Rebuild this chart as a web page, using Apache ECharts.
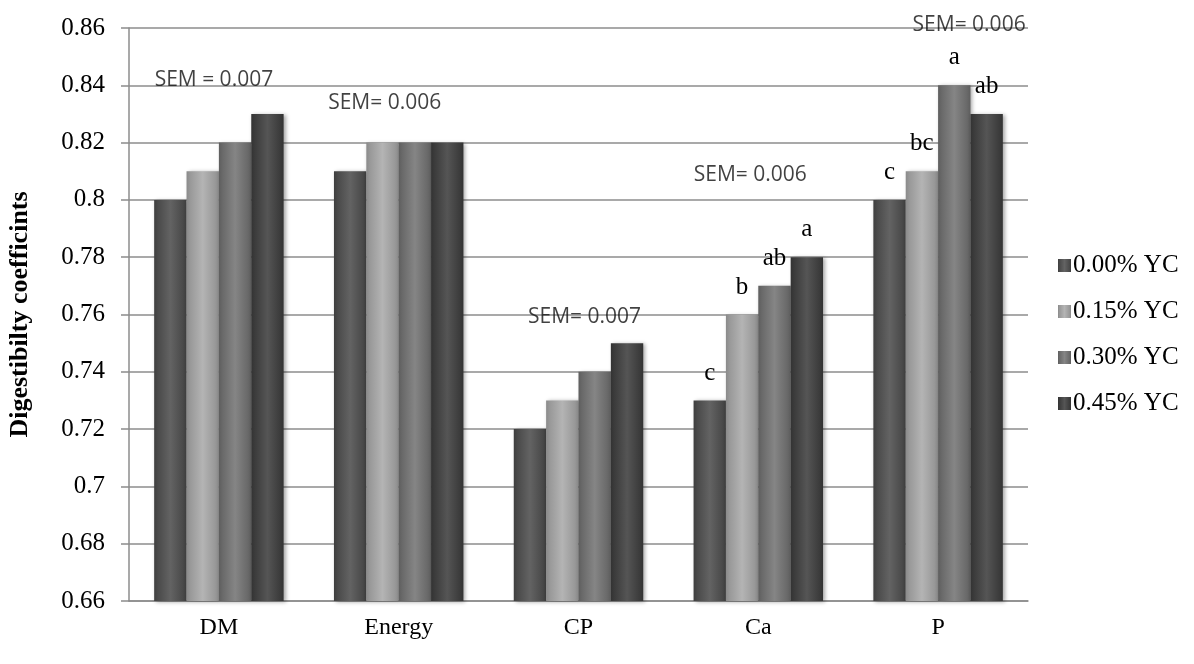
<!DOCTYPE html>
<html>
<head>
<meta charset="utf-8">
<script src="https://cdn.jsdelivr.net/npm/echarts@6/dist/echarts.min.js"></script>
<style>html,body{margin:0;padding:0;background:#fff;}#c{width:1194px;height:664px;}</style>
</head>
<body>
<div id="c"></div>
<script>
const categories = ['DM', 'Energy', 'CP', 'Ca', 'P'];
const seriesNames = ['0.00% YC', '0.15% YC', '0.30% YC', '0.45% YC'];
const yc000 = [0.80, 0.81, 0.72, 0.73, 0.80];
const yc015 = [0.81, 0.82, 0.73, 0.76, 0.81];
const yc030 = [0.82, 0.82, 0.74, 0.77, 0.84];
const yc045 = [0.83, 0.82, 0.75, 0.78, 0.83];
const letters000 = ['', '', '', 'c', 'c'];
const letters015 = ['', '', '', 'b', 'bc'];
const letters030 = ['', '', '', 'ab', 'a'];
const letters045 = ['', '', '', 'a', 'ab'];
const semText = ['SEM = 0.007', 'SEM= 0.006', 'SEM= 0.007', 'SEM= 0.006', 'SEM= 0.006'];
const semY = [0.8418, 0.8338, 0.7591, 0.8087, 0.8610];
const semDx = [-5, -14, 6, -8, 31];
const yTicks = { min: 0.66, max: 0.86, interval: 0.02 };

const values = [yc000, yc015, yc030, yc045];
const letters = [letters000, letters015, letters030, letters045];
const baseColors = [
  ['#3e3e3e', '#636363', '#4a4a4a'],
  ['#8a8a8a', '#b4b4b4', '#999999'],
  ['#5e5e5e', '#858585', '#6a6a6a'],
  ['#333333', '#555555', '#3c3c3c']
];
const legendColors = ['#555555', '#a8a8a8', '#7a7a7a', '#464646'];
const serif = '"Liberation Serif", "DejaVu Serif", serif';

function grad(c) {
  return new echarts.graphic.LinearGradient(0, 0, 1, 0, [
    { offset: 0, color: c[0] },
    { offset: 0.12, color: c[2] },
    { offset: 0.5, color: c[1] },
    { offset: 0.88, color: c[2] },
    { offset: 1, color: c[0] }
  ]);
}

const barSeries = seriesNames.map((name, i) => ({
  name: name,
  type: 'bar',
  barGap: '0%',
  barCategoryGap: '28%',
  color: legendColors[i],
  itemStyle: {
    color: grad(baseColors[i]),
    shadowColor: 'rgba(0,0,0,0.35)',
    shadowBlur: 4,
    shadowOffsetX: 2,
    shadowOffsetY: 1
  },
  data: values[i].map((v, k) => ({
    value: v,
    label: {
      show: letters[i][k] !== '',
      position: 'top',
      distance: 15,
      formatter: letters[i][k],
      fontFamily: serif,
      fontSize: 25,
      color: '#000'
    }
  }))
}));

const semSeries = {
  name: 'SEM',
  type: 'scatter',
  symbolSize: 0,
  silent: true,
  clip: false,
  z: 5,
  data: categories.map((c, k) => ({
    value: [c, semY[k]],
    label: {
      show: true,
      position: 'inside',
      offset: [semDx[k], 0],
      formatter: semText[k],
      fontFamily: '"Open Sans", "Liberation Sans", sans-serif',
      fontSize: 21,
      color: '#111'
    }
  }))
};

const chart = echarts.init(document.getElementById('c'));
chart.setOption({
  animation: false,
  backgroundColor: '#fff',
  grid: { left: 129, right: 166, top: 28, bottom: 63, containLabel: false, outerBoundsMode: 'none' },
  legend: {
    data: seriesNames,
    orient: 'vertical',
    left: 1053,
    top: 248,
    itemGap: 21,
    itemWidth: 13,
    itemHeight: 13,
    icon: 'rect',
    textStyle: { fontFamily: serif, fontSize: 25, color: '#000', padding: [0, 0, 0, -3] }
  },
  xAxis: {
    type: 'category',
    data: categories,
    axisLine: { show: true, lineStyle: { color: '#8c8c8c', width: 1.5 } },
    axisTick: { show: false },
    axisLabel: { fontFamily: serif, fontSize: 24, color: '#000', margin: 15 }
  },
  yAxis: {
    type: 'value',
    min: yTicks.min,
    max: yTicks.max,
    interval: yTicks.interval,
    name: 'Digestibilty coefficints',
    nameLocation: 'middle',
    nameGap: 96,
    nameTextStyle: { fontFamily: serif, fontSize: 26, fontWeight: 'bold', color: '#000' },
    axisLine: { show: true, lineStyle: { color: '#8c8c8c', width: 1.5 } },
    axisTick: { show: true, length: 8, lineStyle: { color: '#8c8c8c', width: 1.5 } },
    axisLabel: { fontFamily: serif, fontSize: 25, color: '#000', margin: 24 },
    splitLine: { show: true, lineStyle: { color: '#8c8c8c', width: 1.5 } }
  },
  series: barSeries.concat([semSeries])
});
</script>
</body>
</html>
